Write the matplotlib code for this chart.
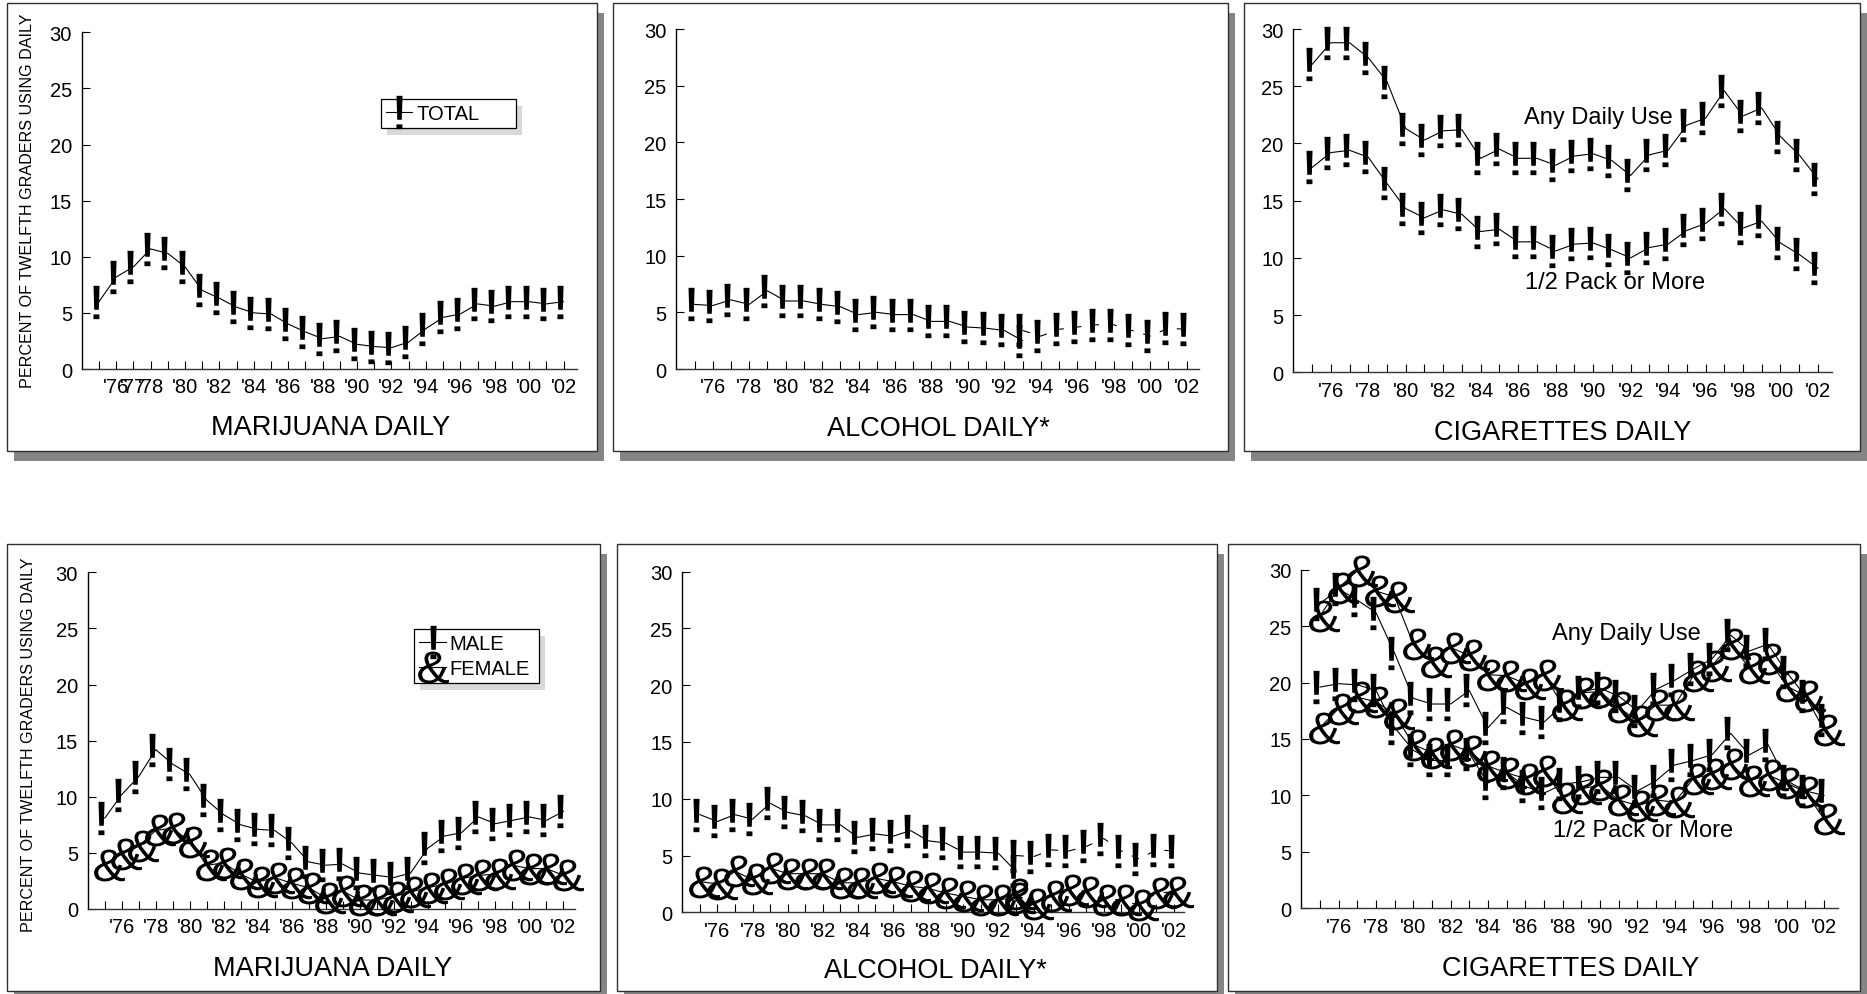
import matplotlib
matplotlib.use("Agg")
import matplotlib.pyplot as plt
from matplotlib.patches import Rectangle
from matplotlib.lines import Line2D
from matplotlib.textpath import TextPath
from matplotlib.font_manager import FontProperties
from matplotlib.path import Path
from matplotlib.transforms import offset_copy

plt.rcParams['font.family'] = ['Liberation Sans', 'DejaVu Sans']

# ---------------- data ----------------
years = list(range(1975, 2003))
years_old = list(range(1975, 1994))   # alcohol, original question
years_new = list(range(1993, 2003))   # alcohol, revised question

marijuana_total = [6.0, 8.2, 9.1, 10.7, 10.3, 9.1, 7.0, 6.3, 5.5, 5.0, 4.9, 4.0, 3.3, 2.7,
                   2.9, 2.2, 2.0, 1.9, 2.4, 3.6, 4.6, 4.9, 5.8, 5.6, 6.0, 6.0, 5.8, 6.0]
alcohol_total_old = [5.7, 5.6, 6.1, 5.7, 6.9, 6.0, 6.0, 5.7, 5.5, 4.8, 5.0, 4.8, 4.8, 4.2,
                     4.2, 3.7, 3.6, 3.4, 2.5]
alcohol_total_new = [3.4, 2.9, 3.5, 3.7, 3.9, 3.9, 3.4, 2.9, 3.6, 3.5]
cig_any_total = [26.9, 28.8, 28.8, 27.5, 25.4, 21.3, 20.3, 21.1, 21.2, 18.7, 19.5, 18.7, 18.7, 18.1,
                 18.9, 19.1, 18.5, 17.2, 19.0, 19.4, 21.6, 22.2, 24.6, 22.4, 23.1, 20.6, 19.0, 16.9]
cig_half_total = [17.9, 19.2, 19.4, 18.8, 16.5, 14.3, 13.5, 14.2, 13.8, 12.3, 12.5, 11.4, 11.4, 10.6,
                  11.2, 11.3, 10.7, 10.0, 10.9, 11.2, 12.4, 13.0, 14.3, 12.6, 13.2, 11.3, 10.3, 9.1]

marijuana_male = [8.1, 10.2, 11.8, 14.2, 12.9, 12.0, 9.7, 8.4, 7.5, 7.1, 7.0, 5.9, 4.2, 3.9,
                  4.0, 3.2, 3.0, 2.8, 3.2, 5.4, 6.5, 6.8, 8.2, 7.6, 7.9, 8.2, 7.9, 8.7]
marijuana_female = [3.9, 4.9, 5.6, 7.0, 7.2, 6.0, 3.9, 4.1, 3.1, 2.4, 2.8, 2.3, 1.9, 1.0,
                    1.6, 0.8, 0.8, 1.1, 1.5, 1.9, 2.2, 2.7, 3.0, 3.1, 3.9, 3.6, 3.6, 3.0]
alcohol_male_old = [8.6, 8.0, 8.6, 8.2, 9.6, 8.8, 8.5, 7.7, 7.7, 6.6, 6.9, 6.7, 7.2, 6.3,
                    6.1, 5.3, 5.3, 5.2, 3.6]
alcohol_male_new = [5.0, 4.9, 5.5, 5.4, 5.8, 6.5, 5.4, 4.7, 5.5, 5.4]
alcohol_female_old = [2.7, 2.5, 3.6, 2.9, 3.9, 3.4, 3.4, 3.4, 2.6, 2.6, 3.0, 2.7, 2.3, 2.1,
                      1.7, 1.4, 1.1, 1.1, 1.3]
alcohol_female_new = [1.6, 0.7, 1.4, 2.0, 1.8, 1.1, 1.1, 0.6, 1.7, 1.8]
cig_any_male = [27.0, 28.3, 27.3, 26.2, 22.6, 18.6, 18.1, 18.1, 19.3, 16.0, 17.8, 16.9, 16.5, 18.0,
                19.2, 19.5, 18.8, 17.5, 19.4, 20.2, 21.2, 22.1, 24.2, 22.8, 23.4, 20.9, 18.8, 16.7]
cig_any_female = [25.9, 28.4, 29.9, 28.1, 27.6, 23.4, 21.8, 23.1, 22.4, 20.7, 20.6, 19.9, 20.7, 18.0,
                  19.1, 19.2, 17.8, 16.6, 18.0, 18.0, 20.6, 21.5, 23.4, 21.3, 22.1, 19.7, 18.8, 15.8]
cig_half_male = [19.6, 19.9, 19.8, 19.3, 16.0, 14.0, 13.1, 13.1, 13.7, 11.1, 12.0, 10.8, 10.2, 11.0,
                 11.2, 11.6, 11.6, 10.4, 11.3, 12.7, 13.1, 13.6, 15.5, 13.6, 14.5, 11.3, 10.4, 10.0]
cig_half_female = [16.0, 17.7, 18.7, 18.3, 17.2, 14.5, 13.8, 14.5, 13.9, 12.6, 12.0, 11.5, 12.2, 9.8,
                   10.6, 10.9, 9.6, 9.1, 9.6, 9.4, 11.5, 11.9, 12.8, 11.3, 11.8, 11.1, 10.3, 7.9]

yticks = [0, 5, 10, 15, 20, 25, 30]
label_years_wide = [1976, 1977, 1978] + list(range(1980, 2003, 2))
label_years_std = list(range(1976, 2003, 2))
titles = ["MARIJUANA DAILY", "ALCOHOL DAILY*", "CIGARETTES DAILY",
          "MARIJUANA DAILY", "ALCOHOL DAILY*", "CIGARETTES DAILY"]
ylabel_text = "PERCENT OF TWELFTH GRADERS USING DAILY"

# ---------------- layout (pixels, top-left origin) ----------------
W, H = 1867, 995
fig = plt.figure(figsize=(W / 100, H / 100), dpi=100)


def fx(x):
    return x / W


def fy(y):
    return 1 - y / H


frames = [(7, 4, 597, 451.5), (613, 4, 1228, 451.5), (1244, 4, 1859.5, 451.5),
          (7, 545, 600, 991.5), (617, 545, 1216.5, 991.5), (1227.5, 545, 1859.5, 991.5)]
axes_px = [(81.8, 33.3, 577.3, 370), (676.3, 30, 1198.6, 370), (1293.3, 30, 1832, 373.3),
           (87.8, 573.3, 575.3, 910), (682.3, 572.7, 1183.7, 913.3), (1301.3, 570.7, 1837.7, 909.3)]
xmax = [2002.8, 2002.66, 2002.75, 2002.7, 2002.55, 2002.73]
title_pos = [(331, 435), (938, 436.5), (1563, 440), (333, 976.5), (935, 978), (1571, 976.5)]

for (x0, y0, x1, y1) in frames:
    fig.add_artist(Rectangle((fx(x0 + 7), fy(y1 + 10)), fx(x1 - x0), (y1 - y0) / H,
                             facecolor='#858585', edgecolor='none', zorder=-3))
    fig.add_artist(Rectangle((fx(x0), fy(y1)), fx(x1 - x0), (y1 - y0) / H,
                             facecolor='white', edgecolor='#303030', lw=1.0, zorder=-2))


def glyph_path(ch, xstretch=1.0, weight='normal'):
    tp = TextPath((0, 0), ch, size=100,
                  prop=FontProperties(family='Liberation Sans', weight=weight))
    verts = tp.vertices.copy()
    codes = tp.codes.copy()
    real = codes != Path.CLOSEPOLY
    lo = verts[real].min(axis=0)
    hi = verts[real].max(axis=0)
    verts = verts - (lo + hi) / 2
    verts[:, 0] *= xstretch
    verts[~real] = 0
    return Path(verts, codes)


EXCL = glyph_path('!', 1.3)
AMP = glyph_path('&', 1.1)
EXCL_MS, AMP_MS = 24, 23
EXCL_DX, AMP_DX = -2.5, 3.2

axes = []
for i, (x0, y0, x1, y1) in enumerate(axes_px):
    ax = fig.add_axes([fx(x0), fy(y1), fx(x1 - x0), (y1 - y0) / H])
    ax.set_facecolor('none')
    ax.set_xlim(1974, xmax[i])
    ax.set_ylim(0, 30)
    for s in ('top', 'right'):
        ax.spines[s].set_visible(False)
    ax.spines['left'].set_linewidth(1.0)
    ax.spines['bottom'].set_linewidth(1.0)
    ax.spines['bottom'].set_color('#333333')
    ax.set_yticks(yticks)
    ax.set_yticklabels([str(v) for v in yticks])
    labs = label_years_wide if i == 0 else label_years_std
    ax.set_xticks(years)
    ax.set_xticklabels(["'" + str(y)[2:] if y in labs else '' for y in years])
    ax.tick_params(axis='both', direction='in', length=5.5, width=0.8, color='black',
                   labelsize=14.5, labelcolor='black')
    ax.tick_params(axis='y', pad=7)
    ax.tick_params(axis='x', pad=6)
    tx, ty = title_pos[i]
    fig.text(fx(tx), fy(ty), titles[i], ha='center', va='baseline', fontsize=19.5)
    axes.append(ax)


def plot_series(ax, x, y, glyph, ms, dx, ls='-'):
    ax.plot(x, y, color='black', lw=0.8, ls=ls, zorder=2, clip_on=False)
    tr = offset_copy(ax.transData, fig=fig, x=dx, y=0, units='points')
    ax.plot(x, y, ls='none', marker=glyph, ms=ms, mfc='black', mec='none', mew=0,
            transform=tr, zorder=3, clip_on=False)


DASH = (0, (7, 9))

# Panel 1
plot_series(axes[0], years, marijuana_total, EXCL, EXCL_MS, EXCL_DX)
# Panel 2
plot_series(axes[1], years_old, alcohol_total_old, EXCL, EXCL_MS, EXCL_DX)
plot_series(axes[1], years_new, alcohol_total_new, EXCL, EXCL_MS, EXCL_DX, ls=DASH)
# Panel 3
plot_series(axes[2], years, cig_any_total, EXCL, EXCL_MS, EXCL_DX)
plot_series(axes[2], years, cig_half_total, EXCL, EXCL_MS, EXCL_DX)
# Panel 4
plot_series(axes[3], years, marijuana_male, EXCL, EXCL_MS, EXCL_DX)
plot_series(axes[3], years, marijuana_female, AMP, AMP_MS, AMP_DX)
# Panel 5
plot_series(axes[4], years_old, alcohol_male_old, EXCL, EXCL_MS, EXCL_DX)
plot_series(axes[4], years_new, alcohol_male_new, EXCL, EXCL_MS, EXCL_DX, ls=DASH)
plot_series(axes[4], years_old, alcohol_female_old, AMP, AMP_MS, AMP_DX)
plot_series(axes[4], years_new, alcohol_female_new, AMP, AMP_MS, AMP_DX, ls=DASH)
# Panel 6
plot_series(axes[5], years, cig_any_male, EXCL, EXCL_MS, EXCL_DX)
plot_series(axes[5], years, cig_any_female, AMP, AMP_MS, AMP_DX)
plot_series(axes[5], years, cig_half_male, EXCL, EXCL_MS, EXCL_DX)
plot_series(axes[5], years, cig_half_female, AMP, AMP_MS, AMP_DX)

# annotations
axes[2].text(1986.31, 21.79, "Any Daily Use", fontsize=17, ha='left', va='baseline')
axes[2].text(1986.37, 7.37, "1/2 Pack or More", fontsize=17, ha='left', va='baseline')
axes[5].text(1987.41, 23.86, "Any Daily Use", fontsize=17, ha='left', va='baseline')
axes[5].text(1987.5, 6.43, "1/2 Pack or More", fontsize=17, ha='left', va='baseline')

# y labels
fig.text(fx(27.7), fy(200.8), ylabel_text, rotation=90, ha='center', va='center', fontsize=11.6)
fig.text(fx(28.7), fy(745), ylabel_text, rotation=90, ha='center', va='center', fontsize=11.6)

# legends


def make_handle(glyph, ms):
    return Line2D([], [], color='black', lw=0.8, marker=glyph, ms=ms, mfc='black',
                  mec='none', mew=0)


legends = []
leg1 = axes[0].legend([make_handle(EXCL, EXCL_MS)], ['TOTAL'], loc='upper left',
                      bbox_to_anchor=(0.6038, 0.7098, 0.8763 - 0.6038, 0.8019 - 0.7098),
                      mode='expand', borderaxespad=0, frameon=True, fancybox=False,
                      edgecolor='black', framealpha=1, fontsize=14.5, handlelength=1.3,
                      handletextpad=0.2, borderpad=0.25, labelspacing=0.25)
leg1.get_frame().set_linewidth(0.9)
legends.append((axes[0], leg1))
leg4 = axes[3].legend([make_handle(EXCL, EXCL_MS), make_handle(AMP, AMP_MS)], ['MALE', 'FEMALE'],
                      loc='upper left',
                      bbox_to_anchor=(0.670, 0.6466, 0.9255 - 0.670, 0.8316 - 0.6466),
                      mode='expand', borderaxespad=0, frameon=True, fancybox=False,
                      edgecolor='black', framealpha=1, fontsize=14.5, handlelength=1.3,
                      handletextpad=0.2, borderpad=0.25, labelspacing=0.3)
leg4.get_frame().set_linewidth(0.9)
legends.append((axes[3], leg4))

fig.canvas.draw()
for ax, leg in legends:
    bb = leg.get_frame().get_window_extent()
    inv = ax.transAxes.inverted()
    (a0, b0), (a1, b1) = inv.transform([[bb.x0 + 6, bb.y0 - 7], [bb.x1 + 6, bb.y1 - 7]])
    ax.add_patch(Rectangle((a0, b0), a1 - a0, b1 - b0, transform=ax.transAxes,
                           facecolor='#d9d9d9', edgecolor='none', zorder=4.9, clip_on=False))

fig.savefig('out.png', dpi=100)
